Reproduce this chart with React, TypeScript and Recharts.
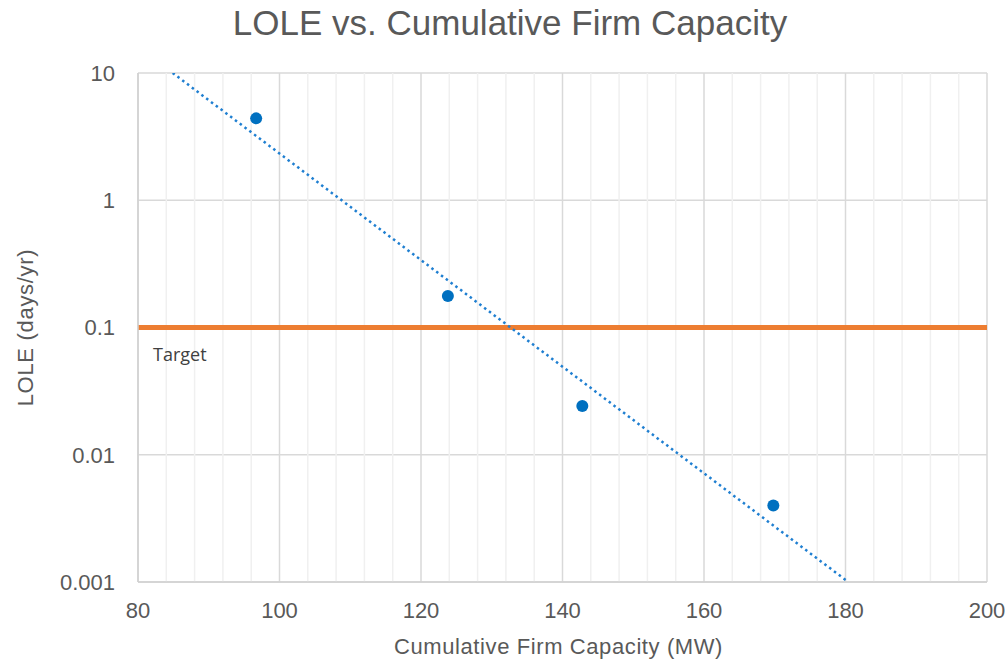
import { CartesianGrid, ReferenceLine, Scatter, ScatterChart, XAxis, YAxis } from 'recharts';

// capacity (MW) vs LOLE (days/yr)
const capacity = [96.7, 123.8, 142.8, 169.8];
const lole = [4.4, 0.177, 0.0242, 0.0040];

// exponential trendline, endpoints where it leaves the plot
const trendCapacity = [84.9, 180.4];
const trendLole = [10, 0.001];

const xTicks = [80, 100, 120, 140, 160, 180, 200];
const xMinorTicks = [84, 88, 92, 96, 104, 108, 112, 116, 124, 128, 132, 136, 144, 148, 152, 156, 164, 168, 172, 176, 184, 188, 192, 196];
const yTicks = [0.001, 0.01, 0.1, 1, 10];
const targetLole = 0.1;

const points = capacity.map((x, i) => ({ x, y: lole[i] }));
const trend = trendCapacity.map((x, i) => ({ x, y: trendLole[i] }));

const gray = '#595959';
const font = 'Liberation Sans';
const tickFont = { fontFamily: font, fontSize: 22, fill: gray };

export default function App() {
  return (
    <div style={{ position: 'fixed', left: 0, top: 0, width: 1006, height: 662, background: '#fff' }}>
      <div
        style={{
          position: 'absolute',
          top: 3,
          left: 7,
          width: 1006,
          textAlign: 'center',
          fontFamily: font,
          fontSize: 35,
          color: gray,
        }}
      >
        LOLE vs. Cumulative Firm Capacity
      </div>
      <ScatterChart width={1006} height={662} margin={{ top: 73, right: 19, bottom: 0, left: 0 }}>
        {xMinorTicks.map((t) => (
          <ReferenceLine key={t} x={t} stroke="#f0f0f0" strokeWidth={1.5} />
        ))}
        <CartesianGrid stroke="#d9d9d9" strokeWidth={1.5} />
        <XAxis
          type="number"
          dataKey="x"
          domain={[80, 200]}
          ticks={xTicks}
          height={80}
          tickLine={false}
          axisLine={{ stroke: '#d0d0d0', strokeWidth: 1.5 }}
          tick={tickFont}
          tickMargin={14}
          label={{
            value: 'Cumulative Firm Capacity (MW)',
            position: 'insideBottom',
            offset: 8,
            style: { ...tickFont, letterSpacing: 0.6 },
            dx: -4,
          }}
          allowDataOverflow
        />
        <YAxis
          type="number"
          dataKey="y"
          scale="log"
          domain={[0.001, 10]}
          ticks={yTicks}
          width={138}
          tickLine={false}
          axisLine={{ stroke: '#d0d0d0', strokeWidth: 1.5 }}
          tick={tickFont}
          tickMargin={17}
          label={{
            value: 'LOLE (days/yr)',
            angle: -90,
            position: 'insideLeft',
            offset: 25,
            style: { ...tickFont, textAnchor: 'middle', letterSpacing: 0.7 },
          }}
          allowDataOverflow
        />
        <ReferenceLine
          y={targetLole}
          stroke="#ED7D31"
          strokeWidth={5}
          label={(props: any) => (
            <text
              x={props.viewBox.x + 15}
              y={props.viewBox.y + 33}
              fontFamily="Open Sans"
              fontSize={18}
              fill="#404040"
            >
              Target
            </text>
          )}
        />
        <Scatter
          data={trend}
          isAnimationActive={false}
          line={{ stroke: '#1f7fd1', strokeWidth: 2.5, strokeDasharray: '2.5 3.5' }}
          shape={() => null}
        />
        <Scatter
          data={points}
          isAnimationActive={false}
          shape={(p: any) => <circle cx={p.cx} cy={p.cy} r={6} fill="#0070C0" />}
        />
      </ScatterChart>
    </div>
  );
}
